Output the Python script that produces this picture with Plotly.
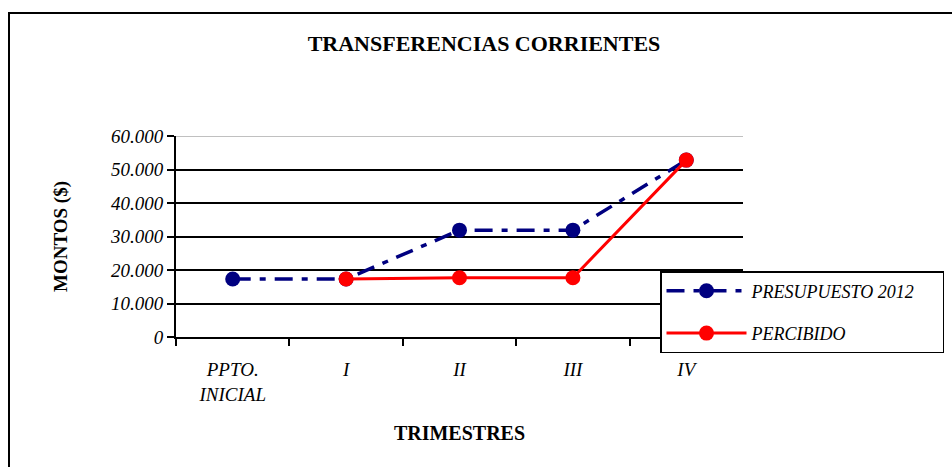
import plotly.graph_objects as go

# Data
CATEGORIES = ["PPTO.<br>INICIAL", "I", "II", "III", "IV"]
PRESUPUESTO_2012 = [17300, 17300, 31900, 31900, 52800]
PERCIBIDO = [None, 17300, 17700, 17700, 52800]
Y_TICKS = [0, 10000, 20000, 30000, 40000, 50000, 60000]
Y_TICK_LABELS = ["0", "10.000", "20.000", "30.000", "40.000", "50.000", "60.000"]

SERIF = "Liberation Serif, Times New Roman, serif"
COLORS = {"presupuesto": "#000080", "percibido": "#FF0000"}
PAD = "\u00a0" * 5  # extra room on the right of the legend text

fig = go.Figure()

fig.add_trace(go.Scatter(
    x=CATEGORIES,
    y=PRESUPUESTO_2012,
    name="<i>PRESUPUESTO 2012</i>" + PAD,
    legendgroup="a",
    mode="lines+markers",
    line=dict(color=COLORS["presupuesto"], width=3.5, dash="18px,9px,6px,9px"),
    marker=dict(size=15, color=COLORS["presupuesto"]),
))

fig.add_trace(go.Scatter(
    x=CATEGORIES,
    y=PERCIBIDO,
    name="<i>PERCIBIDO</i>",
    legendgroup="b",
    mode="lines+markers",
    line=dict(color=COLORS["percibido"], width=3),
    marker=dict(size=15, color=COLORS["percibido"]),
))

# grey top border of the plot area
fig.add_shape(type="line", xref="paper", x0=0, x1=1, yref="y", y0=60000, y1=60000,
              line=dict(color="#c0c0c0", width=2))
# outer chart frame
fig.add_shape(type="rect", xref="paper", yref="paper",
              x0=(9 - 176) / 567, x1=(990 - 176) / 567,
              y0=(337 - 500) / 201, y1=1 + (136 - 13) / 201,
              line=dict(color="black", width=2))

fig.update_layout(
    width=952,
    height=467,
    margin=dict(l=176, r=952 - 743, t=136, b=467 - 337, autoexpand=False),
    paper_bgcolor="white",
    plot_bgcolor="white",
    font=dict(family=SERIF, color="black", size=18),
    title=dict(text="<b>TRANSFERENCIAS CORRIENTES</b>", x=484 / 952,
               xanchor="center", y=1 - 43 / 467, yanchor="middle",
               font=dict(size=22, family=SERIF, color="black")),
    showlegend=True,
    legend=dict(
        x=(660 - 176) / 567, xanchor="left",
        y=(337 - 271) / 201, yanchor="top",
        bgcolor="white", bordercolor="black", borderwidth=1.5,
        font=dict(size=18, family=SERIF, color="black"),
        tracegroupgap=16, itemwidth=80,
    ),
)

fig.update_xaxes(
    type="category",
    range=[-0.5, 4.5],
    showline=True, linecolor="black", linewidth=2,
    ticks="outside", tickson="boundaries", ticklen=7, tickcolor="black", tickwidth=2,
    showgrid=False,
    tickfont=dict(size=19, family=SERIF, style="italic"),
    ticklabelstandoff=14,
    title=dict(text="<b>TRIMESTRES</b>", font=dict(size=20, family=SERIF), standoff=22),
)

fig.update_yaxes(
    range=[0, 60000],
    tickvals=Y_TICKS, ticktext=Y_TICK_LABELS,
    showline=True, linecolor="black", linewidth=2,
    ticks="outside", ticklen=7, tickcolor="black", tickwidth=2,
    showgrid=True, gridcolor="black", gridwidth=1.5,
    zeroline=False,
    tickfont=dict(size=19, family=SERIF, style="italic"),
    title=dict(text="<b>MONTOS ($)</b>", font=dict(size=19, family=SERIF), standoff=37),
)

fig.write_html("out.html", config={"displayModeBar": False},
               post_script="document.body.style.margin='0';")
